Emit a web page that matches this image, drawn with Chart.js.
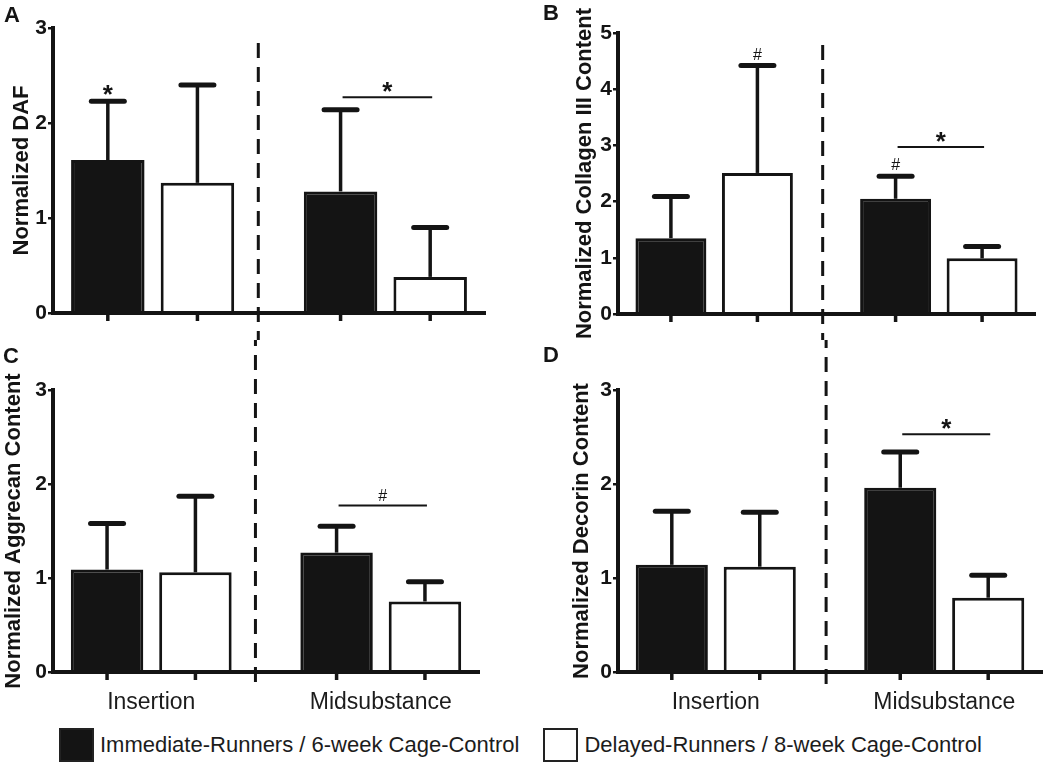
<!DOCTYPE html>
<html>
<head>
<meta charset="utf-8">
<script src="https://cdn.jsdelivr.net/npm/chart.js@4.4.1/dist/chart.umd.min.js"></script>
<style>
  body { margin: 0; background: #fff; font-family: "Liberation Sans", Arial, sans-serif; }
  #page { position: relative; width: 1050px; height: 766px; overflow: hidden; }
  .panel { position: absolute; }
  .letter { position: absolute; font-weight: bold; font-size: 22px; line-height: 1; color: #141414; }
  #legend { position: absolute; left: 59px; top: 728px; display: flex; align-items: center; }
  .item { display: flex; align-items: center; margin-right: 24px; font-size: 22px; color: #1c1c1c; }
  .swatch { width: 31px; height: 30px; border: 2px solid #222; margin-right: 6px; }
</style>
</head>
<body>
<div id="page">
  <div id="legend"></div>
</div>
<script>
(function () {
  'use strict';

  const CATEGORIES = ['Insertion', 'Midsubstance'];
  const SERIES = ['Immediate-Runners / 6-week Cage-Control', 'Delayed-Runners / 8-week Cage-Control'];

  // A - DAF
  const DAF_IMMEDIATE = [1.61, 1.28];
  const DAF_IMMEDIATE_SD = [0.62, 0.86];
  const DAF_DELAYED = [1.37, 0.38];
  const DAF_DELAYED_SD = [1.03, 0.52];

  // B - collagen III
  const COL3_IMMEDIATE = [1.35, 2.05];
  const COL3_IMMEDIATE_SD = [0.74, 0.40];
  const COL3_DELAYED = [2.51, 0.99];
  const COL3_DELAYED_SD = [1.91, 0.21];

  // C - aggrecan
  const AGG_IMMEDIATE = [1.09, 1.27];
  const AGG_IMMEDIATE_SD = [0.49, 0.28];
  const AGG_DELAYED = [1.06, 0.75];
  const AGG_DELAYED_SD = [0.81, 0.21];

  // D - decorin
  const DEC_IMMEDIATE = [1.14, 1.96];
  const DEC_IMMEDIATE_SD = [0.57, 0.38];
  const DEC_DELAYED = [1.12, 0.79];
  const DEC_DELAYED_SD = [0.58, 0.24];

  const TICKS_3 = [0, 1, 2, 3];
  const TICKS_5 = [0, 1, 2, 3, 4, 5];

  // significance: single marks over a bar, and lines between the two bars of a group
  const DAF_MARKS = [{ series: 0, group: 0, text: '*' }];
  const DAF_LINES = [{ group: 1, level: 2.27, text: '*' }];
  const COL3_MARKS = [{ series: 1, group: 0, text: '#' }, { series: 0, group: 1, text: '#' }];
  const COL3_LINES = [{ group: 1, level: 2.97, text: '*' }];
  const AGG_MARKS = [];
  const AGG_LINES = [{ group: 1, level: 1.77, text: '#' }];
  const DEC_MARKS = [];
  const DEC_LINES = [{ group: 1, level: 2.53, text: '*' }];

  const INK = '#141414';
  const FILLS = [INK, '#ffffff'];
  const FONT = '"Liberation Sans", Arial, sans-serif';

  const PANELS = [
    {
      letter: 'A', left: 0, top: 0, width: 520, height: 340,
      area: { left: 53, top: 28, right: 485, bottom: 313 },
      title: 'Normalized DAF', titleGap: 9, yMax: 3, ticks: TICKS_3, showCategories: false,
      series: [[DAF_IMMEDIATE, DAF_IMMEDIATE_SD], [DAF_DELAYED, DAF_DELAYED_SD]],
      marks: DAF_MARKS, lines: DAF_LINES,
      divider: { at: 0.454, from: 43, to: 686 },
      letterPos: [4, 4],
    },
    {
      letter: 'B', left: 520, top: 0, width: 530, height: 340,
      area: { left: 618, top: 33, right: 1035, bottom: 314 },
      title: 'Normalized Collagen III Content', titleGap: 52, yMax: 5, ticks: TICKS_5, showCategories: false,
      series: [[COL3_IMMEDIATE, COL3_IMMEDIATE_SD], [COL3_DELAYED, COL3_DELAYED_SD]],
      marks: COL3_MARKS, lines: COL3_LINES,
      divider: { at: 0.483, from: 45, to: 686 },
      letterPos: [543, 2],
    },
    {
      letter: 'C', left: 0, top: 340, width: 520, height: 380,
      area: { left: 53, top: 390, right: 479, bottom: 672 },
      title: 'Normalized Aggrecan Content', titleGap: 1, yMax: 3, ticks: TICKS_3, showCategories: true,
      series: [[AGG_IMMEDIATE, AGG_IMMEDIATE_SD], [AGG_DELAYED, AGG_DELAYED_SD]],
      marks: AGG_MARKS, lines: AGG_LINES,
      divider: { at: 0.454, from: 43, to: 686 },
      letterPos: [3, 345],
    },
    {
      letter: 'D', left: 520, top: 340, width: 530, height: 380,
      area: { left: 618, top: 390, right: 1042, bottom: 672 },
      title: 'Normalized Decorin Content', titleGap: 49, yMax: 3, ticks: TICKS_3, showCategories: true,
      series: [[DEC_IMMEDIATE, DEC_IMMEDIATE_SD], [DEC_DELAYED, DEC_DELAYED_SD]],
      marks: DEC_MARKS, lines: DEC_LINES,
      divider: { at: 0.483, from: 45, to: 686 },
      letterPos: [543, 344],
    },
  ];

  function drawText(ctx, text, x, cy) {
    // centre the glyph itself on cy
    if (text === '*') {
      ctx.font = 'bold 26px ' + FONT;
      ctx.fillText(text, x, cy + 14);
    } else {
      ctx.font = '16px ' + FONT;
      ctx.fillText(text, x, cy + 6);
    }
  }

  function marksPlugin(panel) {
    return {
      id: 'marks' + panel.letter,
      afterDraw(chart) {
        const ctx = chart.ctx;
        const xs = chart.scales.x;
        const ys = chart.scales.y;
        const base = chart.chartArea.bottom;
        const capHalf = 16.5;

        ctx.save();
        ctx.strokeStyle = INK;
        ctx.fillStyle = INK;
        ctx.textAlign = 'center';
        ctx.textBaseline = 'alphabetic';

        // dashed divider between the two regions, drawn in page coords
        const dx = xs.getPixelForValue(panel.divider.at);
        ctx.lineWidth = 3;
        ctx.setLineDash([15, 9]);
        ctx.beginPath();
        ctx.moveTo(dx, panel.divider.from - panel.top);
        ctx.lineTo(dx, panel.divider.to - panel.top);
        ctx.stroke();
        ctx.setLineDash([]);

        const tops = [];
        panel.series.forEach(([values, sd], i) => {
          tops[i] = [];
          chart.getDatasetMeta(i).data.forEach((bar, j) => {
            const yTop = ys.getPixelForValue(values[j] + sd[j]);
            tops[i][j] = { x: bar.x, y: yTop };

            ctx.lineCap = 'butt';
            ctx.lineWidth = 3.5;
            ctx.beginPath();
            ctx.moveTo(bar.x, bar.y);
            ctx.lineTo(bar.x, yTop);
            ctx.stroke();

            ctx.lineCap = 'round';
            ctx.lineWidth = 5;
            ctx.beginPath();
            ctx.moveTo(bar.x - capHalf, yTop);
            ctx.lineTo(bar.x + capHalf, yTop);
            ctx.stroke();

            // tick under the axis
            ctx.lineCap = 'butt';
            ctx.lineWidth = 3.5;
            ctx.beginPath();
            ctx.moveTo(bar.x, base);
            ctx.lineTo(bar.x, base + 8);
            ctx.stroke();
          });
        });

        panel.marks.forEach((m) => {
          const t = tops[m.series][m.group];
          drawText(ctx, m.text, t.x, t.y - 12);
        });

        panel.lines.forEach((l) => {
          const a = tops[0][l.group];
          const b = tops[1][l.group];
          const ly = ys.getPixelForValue(l.level);
          ctx.lineWidth = 2;
          ctx.lineCap = 'butt';
          ctx.beginPath();
          ctx.moveTo(a.x + 2, ly);
          ctx.lineTo(b.x + 2, ly);
          ctx.stroke();
          drawText(ctx, l.text, (a.x + b.x) / 2 + 2, ly - 11);
        });

        ctx.restore();
      },
    };
  }

  function buildPanel(panel) {
    const page = document.getElementById('page');
    const box = document.createElement('div');
    box.className = 'panel';
    box.style.left = panel.left + 'px';
    box.style.top = panel.top + 'px';
    const canvas = document.createElement('canvas');
    canvas.width = panel.width;
    canvas.height = panel.height;
    box.appendChild(canvas);
    page.appendChild(box);

    const letter = document.createElement('div');
    letter.className = 'letter';
    letter.textContent = panel.letter;
    letter.style.left = panel.letterPos[0] + 'px';
    letter.style.top = panel.letterPos[1] + 'px';
    page.appendChild(letter);

    const a = panel.area;

    new Chart(canvas, {
      type: 'bar',
      data: {
        datasets: panel.series.map(([values], i) => ({
          label: SERIES[i],
          data: values.map((v, j) => ({ x: j, y: v })),
          backgroundColor: FILLS[i],
          borderColor: INK,
          borderWidth: 3,
          categoryPercentage: 0.77,
          barPercentage: 0.82,
        })),
      },
      options: {
        responsive: false,
        animation: false,
        events: [],
        layout: {
          padding: {
            left: 0,
            top: a.top - panel.top,
            right: panel.left + panel.width - a.right,
            bottom: 0,
          },
        },
        plugins: {
          legend: { display: false },
          tooltip: { enabled: false },
        },
        scales: {
          x: {
            type: 'linear',
            min: -0.428,
            max: 1.428,
            offset: false,
            bounds: 'data',
            afterBuildTicks: (s) => { s.ticks = CATEGORIES.map((c, i) => ({ value: i })); },
            grid: { display: false, drawTicks: false, offset: false },
            border: { display: true, width: 4, color: INK, z: 1 },
            ticks: {
              display: panel.showCategories,
              autoSkip: false,
              maxRotation: 0,
              padding: 17,
              color: '#1c1c1c',
              font: { family: FONT, size: 23 },
              callback: (v) => CATEGORIES[v] || '',
            },
            afterFit: (s) => { s.height = panel.top + panel.height - a.bottom; },
          },
          y: {
            min: 0,
            max: panel.yMax,
            afterBuildTicks: (s) => { s.ticks = panel.ticks.map((v) => ({ value: v })); },
            grid: { drawOnChartArea: false, drawTicks: true, tickLength: 5, lineWidth: 2.5, color: INK },
            border: { display: true, width: 4, color: INK, z: 1 },
            ticks: {
              padding: 1,
              color: INK,
              font: { family: FONT, size: 21, weight: 'bold' },
            },
            title: {
              display: true,
              text: panel.title,
              color: INK,
              font: { family: FONT, size: 22, weight: 'bold' },
              padding: { top: panel.titleGap, bottom: 0 },
            },
            afterFit: (s) => { s.width = a.left - panel.left; },
          },
        },
      },
      plugins: [marksPlugin(panel)],
    });
  }

  function buildLegend() {
    const legend = document.getElementById('legend');
    legend.innerHTML = SERIES.map((name, i) => `
      <div class="item">
        <div class="swatch" style="background:${FILLS[i]}"></div>
        <span>${name}</span>
      </div>`).join('');
  }

  PANELS.forEach(buildPanel);
  buildLegend();
})();
</script>
</body>
</html>
